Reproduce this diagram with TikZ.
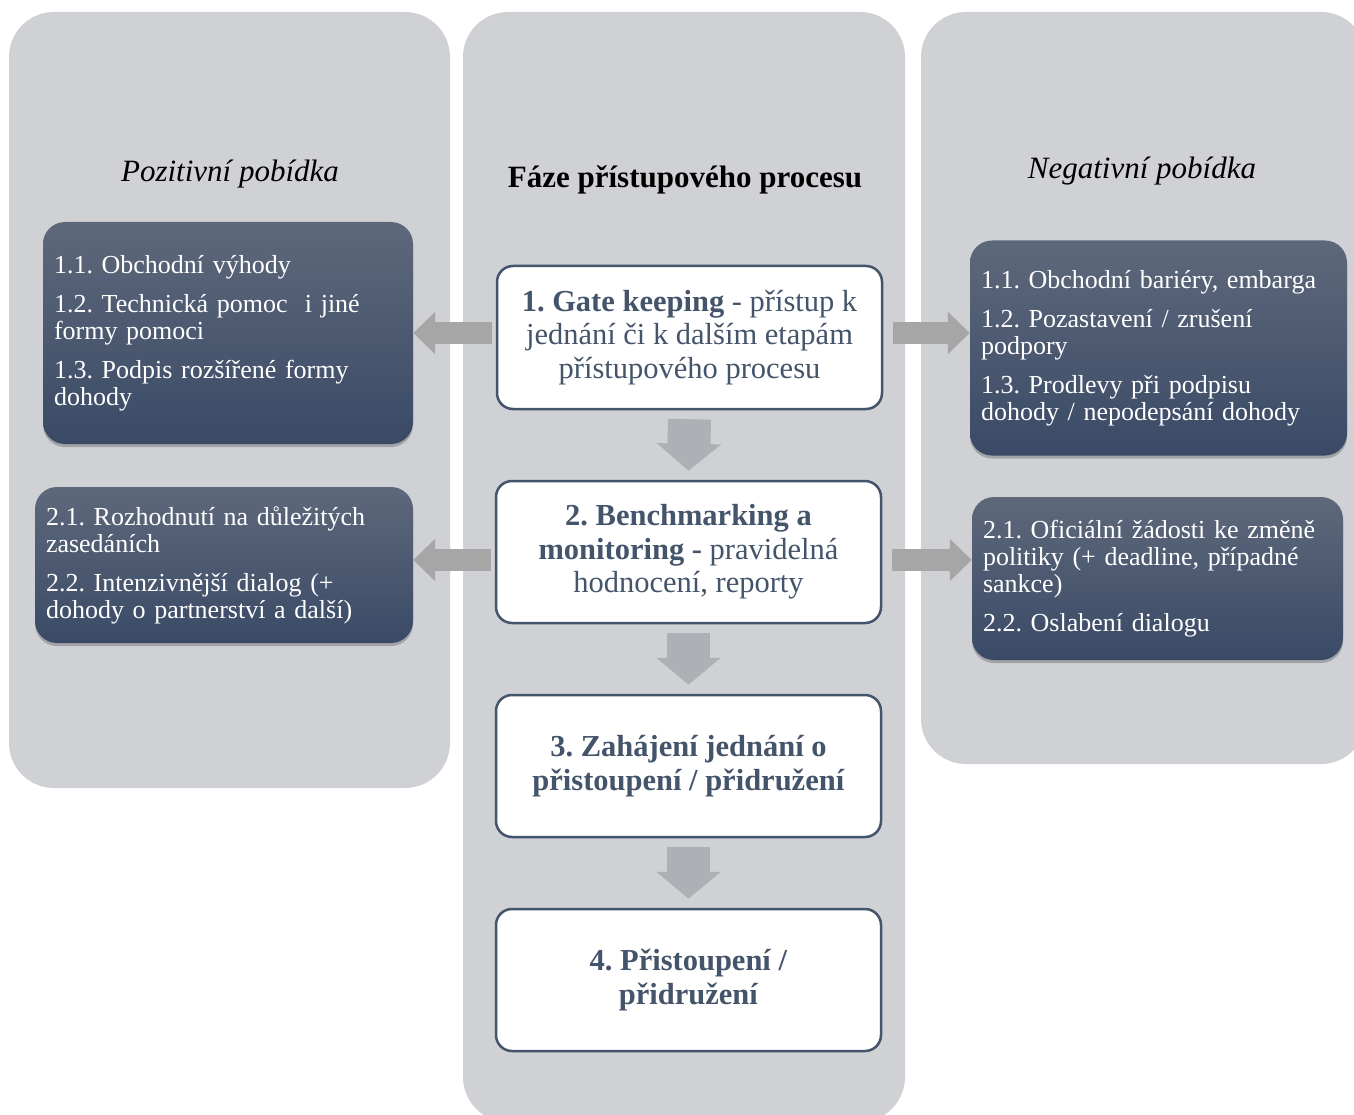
\documentclass[tikz,border=0pt]{standalone}
\usepackage{fontspec}
\setmainfont{Liberation Serif}
\usetikzlibrary{arrows.meta,shadows}
\definecolor{panel}{HTML}{D0D1D5}
\definecolor{ink}{HTML}{44546A}
\definecolor{dtop}{HTML}{5E687B}
\definecolor{dbot}{HTML}{3A4A66}
\definecolor{darr}{HTML}{AEB0B6}
\definecolor{sarr}{HTML}{A6A6A6}
\tikzset{
  panelbox/.style={fill=panel, rounded corners=45pt},
  titletext/.style={font=\fontsize{31}{34}\selectfont, text=black, inner sep=0pt},
  darkbox/.style={rounded corners=22pt, top color=dtop, bottom color=dbot, text=white,
    align=left, inner xsep=11pt, inner ysep=0pt,
    font=\fontsize{26}{27}\selectfont\frenchspacing,
    drop shadow={shadow xshift=0pt, shadow yshift=-3pt, opacity=0.22, fill=black}},
  stagebox/.style={draw=ink, line width=2.5pt, fill=white, rounded corners=16pt,
    text=ink, align=center, inner sep=0pt,
    font=\fontsize{30.5}{33.5}\selectfont\frenchspacing},
  downarrow/.style={draw=darr, line width=43pt, -{Triangle[length=27pt,width=63pt]}},
  sidearrow/.style={draw=sarr, line width=22pt, -{Triangle[length=22pt,width=41pt]}}
}
\begin{document}
\begin{tikzpicture}[x=1pt,y=-1pt]
\clip (0,0) rectangle (1354,1115);
\fill[white] (0,0) rectangle (1354,1115);
% panels
\fill[panelbox] (9,12) rectangle (450,788);
\fill[panelbox] (463,12) rectangle (905,1122);
\fill[panelbox] (921,12) rectangle (1366,764);
% titles
\node[titletext] (tpos) at (230,174) {\itshape Pozitivní pobídka};
\node[titletext] (tmid) at (685,180) {\bfseries Fáze přístupového procesu};
\node[titletext] (tneg) at (1142,171) {\itshape Negativní pobídka};
% stage boxes
\node[stagebox, minimum width=385pt, minimum height=143pt] (g1) at (689.5,337.5)
  {\textbf{1. Gate keeping} - přístup k\\jednání či k dalším etapám\\přístupového procesu};
\node[stagebox, minimum width=385pt, minimum height=142pt] (g2) at (688.5,552)
  {\textbf{2. Benchmarking a}\\\textbf{monitoring -} pravidelná\\hodnocení, reporty};
\node[stagebox, minimum width=385pt, minimum height=142pt] (g3) at (688.5,766)
  {\textbf{3. Zahájení jednání o}\\\textbf{přistoupení / přidružení}};
\node[stagebox, minimum width=385pt, minimum height=142pt] (g4) at (688.5,980)
  {\textbf{4. Přistoupení /}\\\textbf{přidružení}};
% dark boxes
\node[darkbox, minimum height=222pt, text width=348pt] (l1) at (228,333)
  {1.1. Obchodní výhody\\[12pt]1.2. Technická pomoc\ \ i jiné\\formy pomoci\\[12pt]1.3. Podpis rozšířené formy\\dohody};
\node[darkbox, minimum height=156pt, text width=356pt] (l2) at (224,565)
  {2.1. Rozhodnutí na důležitých\\zasedáních\\[12pt]2.2. Intenzivnější dialog (+\\dohody o partnerství a další)};
\node[darkbox, minimum height=215pt, text width=355pt] (r1) at (1158.5,348)
  {1.1. Obchodní bariéry, embarga\\[12pt]1.2. Pozastavení / zrušení\\podpory\\[12pt]1.3. Prodlevy při podpisu\\dohody / nepodepsání dohody};
\node[darkbox, minimum height=163pt, text width=349pt] (r2) at (1157.5,578.5)
  {2.1. Oficiální žádosti ke změně\\politiky (+ deadline, případné\\sankce)\\[12pt]2.2. Oslabení dialogu};
% down arrows
\draw[downarrow] ([yshift=-9pt]g1.south) -- ([yshift=9pt]g2.north);
\draw[downarrow] ([yshift=-9pt]g2.south) -- ([yshift=9pt]g3.north);
\draw[downarrow] ([yshift=-9pt]g3.south) -- ([yshift=9pt]g4.north);
% side arrows
\coordinate (a1) at ([shift={(-4,-4.5)}]g1.west);
\coordinate (a2) at ([shift={(-4,8)}]g2.west);
\coordinate (b1) at ([shift={(10,-4.5)}]g1.east);
\coordinate (b2) at ([shift={(10,8)}]g2.east);
\draw[sidearrow] (a1) -- (a1 -| l1.east);
\draw[sidearrow] (a2) -- (a2 -| l2.east);
\draw[sidearrow] (b1) -- (b1 -| r1.west);
\draw[sidearrow] (b2) -- (b2 -| r2.west);
\end{tikzpicture}
\end{document}
